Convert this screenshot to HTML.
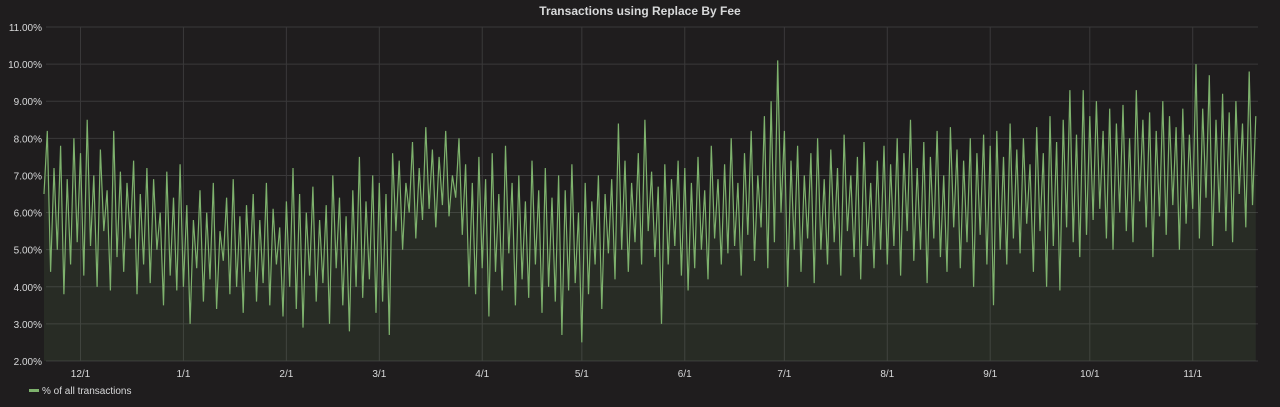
<!DOCTYPE html>
<html><head><meta charset="utf-8"><style>
html,body{margin:0;padding:0;background:#1f1d1e;}
svg{display:block;font-family:"Liberation Sans",sans-serif;}
</style></head><body>
<svg width="1280" height="407" viewBox="0 0 1280 407">
<rect x="0" y="0" width="1280" height="407" fill="#1f1d1e"/>
<text x="640" y="15" text-anchor="middle" fill="#d8d9da" font-size="12" font-weight="bold">Transactions using Replace By Fee</text>
<g id="grid"></g>
<g id="marks"></g>
<g id="axes"></g>
<g>
<rect x="29" y="389" width="10" height="3" fill="#7eb26d"/>
<text x="42" y="394" fill="#d8d9da" font-size="10">% of all transactions</text>
</g>
</svg>
<script>
const yTicks=[2,3,4,5,6,7,8,9,10,11];
const xTickLabels=["12/1","1/1","2/1","3/1","4/1","5/1","6/1","7/1","8/1","9/1","10/1","11/1"];
const xTickDays=[11,42,73,101,132,162,193,223,254,285,315,346];
const values=[6.5,8.2,4.4,7.2,5.0,7.8,3.8,6.9,4.6,8.0,5.2,
7.6,4.3,8.5,5.1,7.0,4.0,7.7,5.5,6.6,3.9,8.2,4.8,7.1,4.4,6.8,5.3,7.4,3.8,6.5,4.6,7.2,4.1,6.9,5.0,6.0,3.5,7.1,4.3,6.4,3.9,7.3,
4.0,6.2,3.0,5.8,4.5,6.6,3.6,6.0,4.2,6.8,3.4,5.5,4.7,6.4,3.8,6.9,4.0,5.9,3.3,6.2,4.4,6.5,3.6,5.8,4.1,6.8,3.5,6.1,4.6,5.6,3.2,
6.3,4.0,7.2,3.4,6.5,2.9,6.0,4.3,6.7,3.6,5.8,4.1,6.2,3.0,7.0,4.5,6.4,3.5,5.9,2.8,6.6,4.0,7.5,3.7,6.3,4.2,7.0,3.3,
6.8,3.6,6.5,2.7,7.6,5.5,7.4,5.0,6.8,6.0,7.9,5.3,7.2,5.8,8.3,6.1,7.7,5.6,7.5,6.2,8.2,5.9,7.0,6.4,8.0,5.4,7.3,4.0,6.8,3.8,7.5,
4.5,6.9,3.2,7.6,4.4,6.5,3.9,7.8,4.9,6.8,3.5,7.0,4.2,6.3,3.7,7.4,4.6,6.6,3.3,7.2,4.0,6.4,3.6,7.0,2.7,6.6,3.9,7.3,4.1,6.0,
2.5,6.8,3.8,6.3,4.6,7.0,3.4,6.5,4.9,6.9,4.2,8.4,5.0,7.4,4.4,6.8,5.2,7.6,4.6,8.5,5.5,7.1,4.8,6.7,3.0,7.3,4.6,6.9,5.1,7.4,4.3,
7.2,3.9,6.8,4.5,7.5,5.0,6.6,4.2,7.8,5.3,6.9,4.6,7.3,4.9,8.0,5.1,6.8,4.3,7.6,5.4,8.2,4.7,7.0,5.6,8.6,4.5,9.0,5.2,10.1,6.0,
8.2,4.0,7.4,5.0,7.8,4.4,7.0,5.3,7.6,4.1,8.0,5.0,6.9,4.6,7.7,5.2,7.2,4.3,8.1,5.5,7.0,4.8,7.5,4.2,7.9,5.1,6.8,4.5,7.4,5.0,7.8,
4.6,7.3,5.1,8.0,4.3,7.6,5.5,8.5,4.7,7.2,5.0,7.9,4.1,7.5,5.3,8.2,4.8,7.0,4.4,8.3,5.6,7.7,4.5,7.4,5.2,8.0,4.0,7.6,5.4,8.1,4.6,
7.8,3.5,8.2,5.0,7.5,4.6,8.4,5.3,7.7,4.9,8.0,5.7,7.3,4.4,8.3,5.5,7.6,4.0,8.6,5.1,7.9,3.9,8.5,5.6,9.3,5.2,8.1,4.8,9.3,5.4,
8.6,5.8,9.0,6.1,8.2,5.3,8.8,5.0,8.4,6.0,8.9,5.5,8.0,5.2,9.3,6.3,8.5,5.6,8.7,4.8,8.2,5.9,9.0,5.4,8.6,6.2,8.3,5.0,8.8,5.7,8.1,
6.1,10.0,5.3,8.8,6.4,9.7,5.1,8.5,6.0,9.2,5.5,8.7,5.2,9.0,6.5,8.4,5.6,9.8,6.2,8.6];

const NS="http://www.w3.org/2000/svg";
const L=46,R=1258,T=27,B=361,X0=44,DPX=3.32;
const xS=d=>X0+d*DPX;
const yS=v=>B-(v-2)/9*(B-T);
const grid=document.getElementById('grid'),marks=document.getElementById('marks'),axes=document.getElementById('axes');
function mk(tag,at,parent){const e=document.createElementNS(NS,tag);for(const k in at)e.setAttribute(k,at[k]);parent.appendChild(e);return e;}
yTicks.forEach(v=>{
  const ln=mk('line',{x1:L,x2:R,y1:yS(v),y2:yS(v),stroke:'#3a393a','stroke-width':1},grid);
  
  
  const t=mk('text',{x:42,y:yS(v)+4,'text-anchor':'end',fill:'#d8d9da','font-size':10},axes);
  t.textContent=v.toFixed(2)+'%';
  
  
});
xTickDays.forEach((d,i)=>{
  const ln=mk('line',{x1:xS(d),x2:xS(d),y1:T,y2:B,stroke:'#3a393a','stroke-width':1},grid);
  
  
  const t=mk('text',{x:xS(d),y:377,'text-anchor':'middle',fill:'#d8d9da','font-size':10},axes);
  t.textContent=xTickLabels[i];
  
  
});
let p='';values.forEach((v,i)=>{p+=(i?'L':'M')+xS(i).toFixed(1)+','+yS(v).toFixed(1);});
const area=mk('path',{d:p+'L'+xS(values.length-1).toFixed(1)+','+B+'L'+xS(0).toFixed(1)+','+B+'Z',fill:'rgba(126,178,109,0.1)'},marks);


const line=mk('path',{d:p,fill:'none',stroke:'#7eb26d','stroke-width':1.2},marks);


</script>
</body></html>
